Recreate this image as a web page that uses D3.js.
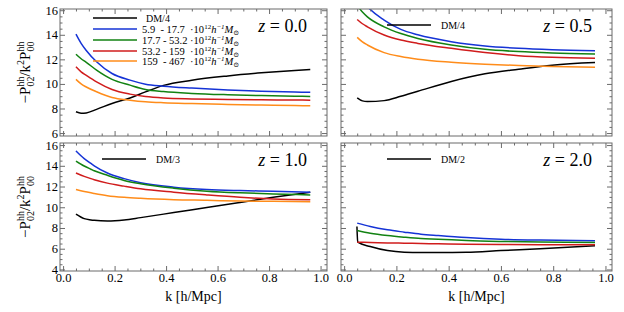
<!DOCTYPE html>
<html>
<head>
<meta charset="utf-8">
<script src="https://cdn.jsdelivr.net/npm/d3@7"></script>
<style>
body { margin: 0; background: #fff; }
svg text { font-family: "Liberation Serif", "Times New Roman", Tinos, Times, "DejaVu Serif", "Noto Serif", serif; fill: #000; }
</style>
</head>
<body>
<svg id="chart" width="624" height="312"></svg>
<script>
// ---- data ----
var binLabels = ['5.9  - 17.7  ', '17.7 - 53.2 ', '53.2 - 159  ', '159  - 467  ']
var binColors = ['#1533d6', '#128212', '#d01c1c', '#ff8c1a']
var xTicks = [0, 0.2, 0.4, 0.6, 0.8, 1.0]

// z = 0.0
var kZ0 = [0.05, 0.07, 0.09, 0.13, 0.19, 0.26, 0.32, 0.39, 0.5, 0.64, 0.77, 0.9, 0.96]
var dmZ0 = [7.73, 7.62, 7.64, 7.93, 8.41, 8.85, 9.35, 9.88, 10.3, 10.65, 10.9, 11.1, 11.18]
var bin1Z0 = [14.05, 13.3, 12.72, 11.8, 10.85, 10.31, 9.98, 9.82, 9.66, 9.5, 9.4, 9.34, 9.32]
var bin2Z0 = [12.42, 12.05, 11.76, 11.12, 10.37, 9.9, 9.55, 9.38, 9.23, 9.12, 9.05, 9.0, 8.98]
var bin3Z0 = [11.39, 10.98, 10.7, 10.17, 9.55, 9.17, 8.97, 8.85, 8.78, 8.74, 8.71, 8.69, 8.68]
var bin4Z0 = [10.37, 10.0, 9.75, 9.36, 8.9, 8.68, 8.55, 8.47, 8.4, 8.33, 8.28, 8.24, 8.22]

// z = 0.5
var kZ05 = [0.05, 0.07, 0.089, 0.153, 0.217, 0.282, 0.41, 0.539, 0.668, 0.796, 0.96]
var dmZ05 = [8.86, 8.62, 8.57, 8.64, 8.99, 9.4, 10.2, 10.82, 11.2, 11.53, 11.74]
var bin1Z05 = [17.4, 16.8, 16.3, 15.2, 14.44, 14.0, 13.44, 13.09, 12.9, 12.79, 12.71]
var bin2Z05 = [16.4, 15.85, 15.46, 14.65, 14.1, 13.7, 13.17, 12.82, 12.63, 12.52, 12.44]
var bin3Z05 = [15.25, 14.9, 14.65, 13.98, 13.57, 13.3, 12.9, 12.55, 12.3, 12.17, 12.09]
var bin4Z05 = [13.79, 13.42, 13.17, 12.55, 12.23, 12.01, 11.77, 11.61, 11.5, 11.42, 11.36]

// z = 1.0
var kZ1 = [0.05, 0.082, 0.108, 0.121, 0.172, 0.237, 0.301, 0.43, 0.558, 0.687, 0.816, 0.96]
var dmZ1 = [9.33, 8.9, 8.78, 8.74, 8.67, 8.77, 9.0, 9.49, 9.98, 10.47, 10.96, 11.45]
var bin1Z1 = [15.44, 14.7, 14.23, 14.0, 13.31, 12.76, 12.37, 11.94, 11.71, 11.61, 11.55, 11.45]
var bin2Z1 = [14.46, 13.98, 13.67, 13.52, 13.08, 12.59, 12.27, 11.84, 11.55, 11.39, 11.29, 11.19]
var bin3Z1 = [13.31, 12.98, 12.76, 12.66, 12.33, 12.04, 11.78, 11.45, 11.19, 10.96, 10.8, 10.73]
var bin4Z1 = [11.71, 11.52, 11.39, 11.33, 11.12, 10.96, 10.86, 10.73, 10.67, 10.6, 10.57, 10.54]

// z = 2.0 (no orange curve)
var kZ2 = [0.05, 0.1, 0.166, 0.23, 0.294, 0.36, 0.468, 0.6, 0.75, 0.96]
var kZ2dm = [0.049, 0.052, 0.1, 0.166, 0.23, 0.294, 0.36, 0.468, 0.6, 0.75, 0.96]
var dmZ2 = [8.14, 6.63, 6.21, 5.82, 5.66, 5.63, 5.63, 5.66, 5.82, 6.0, 6.28]
var bin1Z2 = [8.47, 8.14, 7.82, 7.6, 7.4, 7.27, 7.08, 6.92, 6.83, 6.77]
var bin2Z2 = [7.76, 7.5, 7.27, 7.11, 6.98, 6.92, 6.79, 6.7, 6.64, 6.61]
var bin3Z2 = [6.63, 6.6, 6.56, 6.53, 6.5, 6.47, 6.42, 6.4, 6.39, 6.38]

// ---- layout ----
var svg = d3.select('#chart')
var frameColor = '#6b6b6b'
var serif = '"Liberation Serif", "Times New Roman", Tinos, Times, "DejaVu Serif", serif'

var panels = [
  { z: '0.0', left: 60, right: 327, top: 9, bottom: 136, yDom: [5.76, 16.1], yMajor: [6, 8, 10, 12, 14, 16],
    dm: 'DM/4', k: kZ0, dmK: kZ0, dmV: dmZ0, bins: [bin1Z0, bin2Z0, bin3Z0, bin4Z0], xLab: false, yLab: true, fullLegend: true },
  { z: '0.5', left: 341, right: 612, top: 9, bottom: 136, yDom: [5.76, 16.1], yMajor: [6, 8, 10, 12, 14, 16],
    dm: 'DM/4', k: kZ05, dmK: kZ05, dmV: dmZ05, bins: [bin1Z05, bin2Z05, bin3Z05, bin4Z05], xLab: false, yLab: false },
  { z: '1.0', left: 60, right: 327, top: 143, bottom: 271, yDom: [3.85, 16.2], yMajor: [4, 6, 8, 10, 12, 14, 16],
    dm: 'DM/3', k: kZ1, dmK: kZ1, dmV: dmZ1, bins: [bin1Z1, bin2Z1, bin3Z1, bin4Z1], xLab: true, yLab: true },
  { z: '2.0', left: 341, right: 612, top: 143, bottom: 271, yDom: [3.85, 16.2], yMajor: [4, 6, 8, 10, 12, 14, 16],
    dm: 'DM/2', k: kZ2, dmK: kZ2dm, dmV: dmZ2, bins: [bin1Z2, bin2Z2, bin3Z2], xLab: true, yLab: false }
]

panels.forEach(function (p, i) {
  var x = d3.scaleLinear().domain([-0.012, 1.025]).range([p.left, p.right])
  var y = d3.scaleLinear().domain(p.yDom).range([p.bottom, p.top])
  var g = svg.append('g')

  var clipId = 'clip' + i
  svg.append('clipPath').attr('id', clipId)
    .append('rect')
      .attr('x', p.left).attr('y', p.top)
      .attr('width', p.right - p.left).attr('height', p.bottom - p.top)

  var line = d3.line().curve(d3.curveMonotoneX)
  var plot = g.append('g').attr('clip-path', 'url(#' + clipId + ')')

  plot.append('path')
      .attr('d', line(p.dmK.map((k, j) => [x(k), y(p.dmV[j])])))
      .attr('fill', 'none').attr('stroke', '#000').attr('stroke-width', 1.5)

  p.bins.forEach(function (vals, b) {
    plot.append('path')
        .attr('d', line(p.k.map((k, j) => [x(k), y(vals[j])])))
        .attr('fill', 'none').attr('stroke', binColors[b]).attr('stroke-width', 1.5)
  })

  // ticks on all four sides, pointing inward
  var xMinor = d3.range(0, 1.001, 0.05).filter(v => Math.abs(v * 5 - Math.round(v * 5)) > 1e-6)
  var yMinor = d3.range(Math.ceil(p.yDom[0] * 2) / 2, p.yDom[1], 0.5).filter(v => v % 2 !== 0)

  function side (axisFn, scale, major, minor, pos, labels, fmt) {
    var ax = g.append('g').attr('transform', pos)
    ax.call(axisFn(scale).tickValues(major).tickSize(-5).tickPadding(2)
        .tickFormat(labels ? fmt : ''))
    var mn = g.append('g').attr('transform', pos)
    mn.call(axisFn(scale).tickValues(minor).tickSize(-2.5).tickFormat(''))
    ;[ax, mn].forEach(function (s) {
      s.attr('font-family', serif)
      s.select('.domain').remove()
      s.selectAll('line').attr('stroke', frameColor)
      s.selectAll('text').attr('font-size', 12.5).attr('fill', '#000')
    })
  }
  side(d3.axisBottom, x, xTicks, xMinor, 'translate(0,' + p.bottom + ')', p.xLab, d3.format('.1f'))
  side(d3.axisTop, x, xTicks, xMinor, 'translate(0,' + p.top + ')', false)
  side(d3.axisLeft, y, p.yMajor, yMinor, 'translate(' + p.left + ',0)', p.yLab, d3.format('d'))
  side(d3.axisRight, y, p.yMajor, yMinor, 'translate(' + p.right + ',0)', false)

  g.append('rect')
      .attr('x', p.left).attr('y', p.top)
      .attr('width', p.right - p.left).attr('height', p.bottom - p.top)
      .attr('fill', 'none').attr('stroke', frameColor).attr('stroke-width', 1)

  // redshift label
  var zt = g.append('text')
      .attr('x', p.right - 20).attr('y', p.top + 23)
      .attr('text-anchor', 'end').attr('font-size', 18)
  zt.append('tspan').attr('font-style', 'italic').text('z')
  zt.append('tspan').text(' = ' + p.z)

  // legend
  if (p.fullLegend) {
    var lx0 = p.left + 33
    var lx1 = p.left + 77
    var rows = [p.top + 9, p.top + 20, p.top + 31, p.top + 42, p.top + 52]
    g.append('line').attr('x1', lx0).attr('x2', lx1).attr('y1', rows[0]).attr('y2', rows[0])
        .attr('stroke', '#000').attr('stroke-width', 1.5)
    g.append('text').attr('x', lx1 + 9).attr('y', rows[0] + 3.5).attr('font-size', 10).text(p.dm)
    binLabels.forEach(function (lab, b) {
      var ry = rows[b + 1]
      g.append('line').attr('x1', lx0).attr('x2', lx1).attr('y1', ry).attr('y2', ry)
          .attr('stroke', binColors[b]).attr('stroke-width', 1.5)
      var t = g.append('text').attr('x', lx1 + 5).attr('y', ry + 3.5).attr('font-size', 10.5)
          .style('white-space', 'pre')
      t.append('tspan').text(lab + '·10')
      t.append('tspan').attr('dy', -3.5).attr('font-size', 7).text('12')
      t.append('tspan').attr('dy', 3.5).attr('font-style', 'italic').text('h')
      t.append('tspan').attr('dy', -3.5).attr('font-size', 7).attr('font-style', 'italic').text('−1')
      t.append('tspan').attr('dy', 3.5).attr('font-style', 'italic').text('M')
      t.append('tspan').attr('dy', 2.5).attr('font-size', 7).text('⊙')
    })
  } else {
    var off = p.left < 100 ? 42 : 46
    var ly = p.top + 16
    g.append('line').attr('x1', p.left + off).attr('x2', p.left + off + 44)
        .attr('y1', ly).attr('y2', ly).attr('stroke', '#000').attr('stroke-width', 1.5)
    g.append('text').attr('x', p.left + off + 54).attr('y', ly + 3.5).attr('font-size', 10).text(p.dm)
  }

  if (p.xLab) {
    g.append('text').attr('x', (p.left + p.right) / 2).attr('y', 301)
        .attr('text-anchor', 'middle').attr('font-size', 14).text('k [h/Mpc]')
  }

  if (p.yLab) {
    var cy = (p.top + p.bottom) / 2
    var t = g.append('text')
        .attr('transform', 'translate(30,' + cy + ') rotate(-90)')
        .attr('text-anchor', 'middle').attr('font-size', 15)
    t.append('tspan').text('−P')
    t.append('tspan').attr('font-size', 10).attr('dy', -6).text('hh')
    t.append('tspan').attr('font-size', 10).attr('dx', -10).attr('dy', 10).text('02')
    t.append('tspan').attr('dy', -4).text('/k')
    t.append('tspan').attr('font-size', 10).attr('dy', -6).text('2')
    t.append('tspan').attr('dy', 6).text('P')
    t.append('tspan').attr('font-size', 10).attr('dy', -6).text('hh')
    t.append('tspan').attr('font-size', 10).attr('dx', -10).attr('dy', 10).text('00')
  }
})
</script>
</body>
</html>
